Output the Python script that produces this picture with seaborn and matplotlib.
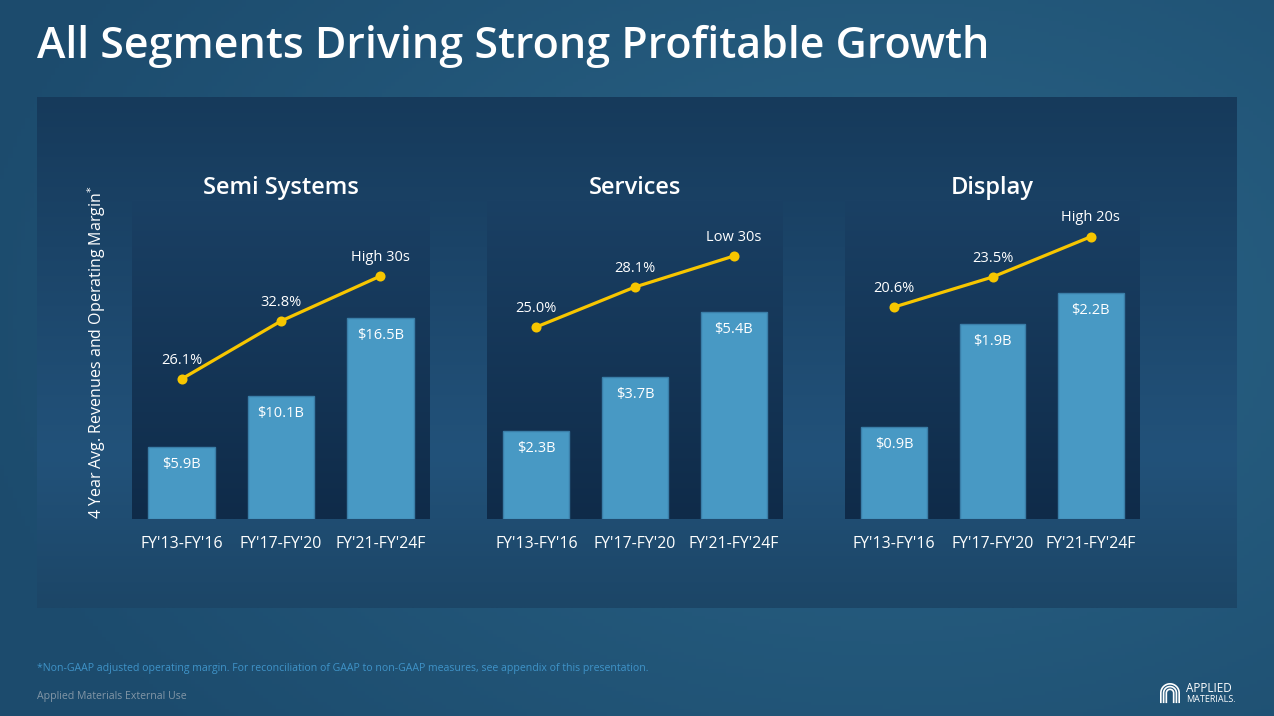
import numpy as np
import matplotlib
matplotlib.use("Agg")
import matplotlib.pyplot as plt
import seaborn as sns
from matplotlib.colors import to_rgb, LinearSegmentedColormap

# data
periods = ["FY'13-FY'16", "FY'17-FY'20", "FY'21-FY'24F"]
segments = ["Semi Systems", "Services", "Display"]

semi_rev = [5.9, 10.1, 16.5]
services_rev = [2.3, 3.7, 5.4]
display_rev = [0.9, 1.9, 2.2]

semi_margin = [26.1, 32.8, 38.0]
services_margin = [25.0, 28.1, 30.5]
display_margin = [20.6, 23.5, 27.4]

semi_margin_lbl = ["26.1%", "32.8%", "High 30s"]
services_margin_lbl = ["25.0%", "28.1%", "Low 30s"]
display_margin_lbl = ["20.6%", "23.5%", "High 20s"]

revenues = [semi_rev, services_rev, display_rev]
margins = [semi_margin, services_margin, display_margin]
margin_labels = [semi_margin_lbl, services_margin_lbl, display_margin_lbl]

# layout (pixels on a 1274x716 canvas)
W, H = 1274, 716
panel_x = [(132, 430), (487, 783), (845, 1140)]
bar_top = [26.15, 8.31, 3.11]
line_lim = [(9.9, 46.8), (10.1, 34.85), (0.1, 30.95)]

bar_color = "#4899c4"
bar_edge = "#3a7ea8"
line_color = "#f7c600"

sns.set_theme(style="white")
plt.rcParams["font.family"] = ["Open Sans", "DejaVu Sans"]


def vgrad(stops, n=256):
    cmap = LinearSegmentedColormap.from_list("g", stops)
    col = cmap(np.linspace(0, 1, n))[:, :3]
    return col[:, None, :].repeat(2, axis=1)


fig = plt.figure(figsize=(12.74, 7.16), dpi=100)

# slide background
bg = fig.add_axes([0, 0, 1, 1])
yy, xx = np.mgrid[0:1:200j, 0:1:300j]
d = np.sqrt(((xx - 0.7) * 1.2) ** 2 + (yy - 0.45) ** 2)
c1 = np.array(to_rgb("#2a6487"))
c2 = np.array(to_rgb("#1c4b6d"))
t = np.clip(d / 0.9, 0, 1)[..., None]
bg.imshow(c1 * (1 - t) + c2 * t, extent=[0, 1, 0, 1], aspect="auto")
bg.axis("off")

# dark content panel
pan = fig.add_axes([37 / W, (H - 608) / H, 1200 / W, 511 / H])
pan.imshow(vgrad([(0, "#163a5b"), (0.7, "#22527a"), (1, "#1c4667")]),
           extent=[0, 1, 0, 1], aspect="auto")
pan.axis("off")

for i, seg in enumerate(segments):
    x0, x1 = panel_x[i]
    ax = fig.add_axes([x0 / W, (H - 519) / H, (x1 - x0) / W, 319 / H])
    ax.imshow(vgrad([(0, "#1a4064"), (1, "#0f2b49")]), extent=[-0.5, 2.5, 0, bar_top[i]],
              aspect="auto", zorder=0)
    sns.barplot(x=periods, y=revenues[i], ax=ax, color=bar_color, saturation=1,
                width=0.67, edgecolor=bar_edge, linewidth=1, zorder=2)
    ax.set_xlim(-0.5, 2.5)
    ax.set_ylim(0, bar_top[i])
    for j, v in enumerate(revenues[i]):
        ax.annotate("$%.1fB" % v, (j, v), xytext=(0, -12.5), textcoords="offset points",
                    ha="center", va="center", color="white", fontsize=10.5, zorder=5)
    for s in ax.spines.values():
        s.set_visible(False)
    ax.set_yticks([])
    ax.tick_params(axis="x", length=0, pad=12, labelsize=11.4, colors="white")
    ax.set_ylabel("")

    tw = ax.twinx()
    sns.pointplot(x=periods, y=margins[i], ax=tw, color=line_color, markers="o",
                  markersize=5.5, linewidth=2.3, errorbar=None)
    tw.set_ylim(*line_lim[i])
    tw.set_xlim(-0.5, 2.5)
    for j, v in enumerate(margins[i]):
        tw.annotate(margin_labels[i][j], (j, v), xytext=(0, 13.5), textcoords="offset points",
                    ha="center", va="center", color="white", fontsize=10.5)
    for s in tw.spines.values():
        s.set_visible(False)
    tw.set_yticks([])
    tw.set_ylabel("")
    tw.tick_params(axis="x", length=0)

    fig.text((x0 + x1) / 2 / W, 1 - 188 / H, seg, ha="center", va="center",
             color="white", fontsize=17, fontweight="semibold")

fig.text(97 / W, 1 - 352 / H, "4 Year Avg. Revenues and Operating Margin$^{*}$",
         rotation=90, ha="center", va="center", color="white", fontsize=11.5)

fig.text(37 / W, 1 - 46 / H, "All Segments Driving Strong Profitable Growth",
         ha="left", va="center", color="white", fontsize=31, fontweight="semibold")

fig.text(37 / W, 1 - 669 / H,
         "*Non-GAAP adjusted operating margin. For reconciliation of GAAP to non-GAAP "
         "measures, see appendix of this presentation.",
         ha="left", va="center", color="#3f93c8", fontsize=7.6)
fig.text(37 / W, 1 - 696 / H, "Applied Materials External Use",
         ha="left", va="center", color="#8296a6", fontsize=7.6)

# logo: nested arches plus wordmark
logo = fig.add_axes([1159 / W, (H - 704) / H, 22 / W, 22 / H])
th = np.linspace(np.pi, 0, 40)
for r in [1.0, 0.7, 0.4]:
    logo.plot(np.r_[-r, r * np.cos(th), r], np.r_[-1, 0.1 + r * np.sin(th), -1],
              color="white", lw=1.2, solid_capstyle="butt")
logo.set_xlim(-1.2, 1.2)
logo.set_ylim(-1.1, 1.3)
logo.axis("off")
fig.text(1186 / W, 1 - 689 / H, "APPLIED", ha="left", va="center",
         color="white", fontsize=8.5)
fig.text(1186 / W, 1 - 700 / H, "MATERIALS.", ha="left", va="center",
         color="white", fontsize=6.5)

fig.savefig("out.png", dpi=100, facecolor="#215578")
